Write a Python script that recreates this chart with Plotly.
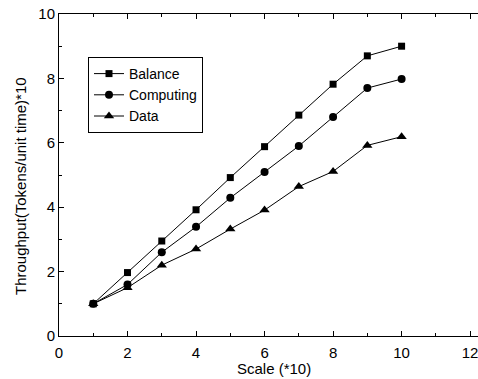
import plotly.graph_objects as go

scale = [1, 2, 3, 4, 5, 6, 7, 8, 9, 10]
balance = [1.0, 1.97, 2.95, 3.92, 4.92, 5.88, 6.86, 7.82, 8.70, 9.0]
computing = [1.0, 1.60, 2.60, 3.39, 4.29, 5.09, 5.90, 6.80, 7.70, 7.98]
data = [1.0, 1.50, 2.20, 2.70, 3.32, 3.91, 4.64, 5.11, 5.92, 6.19]

series = [
    ("Balance", balance, "square", 7),
    ("Computing", computing, "circle", 8),
    ("Data", data, "triangle-up", 9),
]

fig = go.Figure()
for name, ys, sym, sz in series:
    fig.add_trace(go.Scatter(
        x=scale, y=ys, name=name, mode="lines+markers",
        line=dict(color="black", width=1),
        marker=dict(symbol=sym, size=sz, color="black"),
    ))

font = dict(family="Liberation Sans, Arial, sans-serif", size=15, color="black")
legend_font = dict(family="Liberation Sans, Arial, sans-serif", size=14, color="black")

fig.update_layout(
    width=478, height=379,
    margin=dict(l=59, r=0, t=14, b=43, autoexpand=False),
    paper_bgcolor="white", plot_bgcolor="white",
    font=font,
    showlegend=True,
    legend=dict(
        x=(88 - 59) / 419, y=(336 - 57) / 322, xanchor="left", yanchor="top",
        bordercolor="black", borderwidth=1, bgcolor="white",
        font=legend_font, tracegroupgap=0, itemwidth=30,
    ),
    xaxis=dict(
        range=[0, 12.23], tickvals=[0, 2, 4, 6, 8, 10, 12],
        ticks="inside", ticklen=5, tickwidth=1, tickcolor="black",
        minor=dict(tickvals=[1, 3, 5, 7, 9, 11], ticks="inside", ticklen=3, tickcolor="black"),
        showline=True, linecolor="black", linewidth=1, mirror="ticks",
        showgrid=False, zeroline=False, tickfont=font, automargin=False,
        ticklabeloverflow="allow", ticklabelstandoff=3,
    ),
    yaxis=dict(
        range=[0, 10], tickvals=[0, 2, 4, 6, 8, 10],
        ticks="inside", ticklen=5, tickwidth=1, tickcolor="black",
        minor=dict(tickvals=[1, 3, 5, 7, 9], ticks="inside", ticklen=3, tickcolor="black"),
        showline=True, linecolor="black", linewidth=1, mirror=False,
        showgrid=False, zeroline=False, tickfont=font, automargin=False,
        ticklabeloverflow="allow",
    ),
    annotations=[
        dict(text="Scale (*10)", xref="paper", yref="paper",
             x=(273.5 - 59) / 419, y=(336 - 368) / 322, xanchor="center", yanchor="middle",
             showarrow=False, font=font),
        dict(text="Throughput(Tokens/unit time)*10", xref="paper", yref="paper",
             x=(20 - 59) / 419, y=(336 - 186) / 322, xanchor="center", yanchor="middle",
             textangle=-90, showarrow=False, font=font),
    ],
)

fig.write_html("out.html", config={"displayModeBar": False},
               post_script="document.body.style.margin='0';document.body.style.padding='0';")
